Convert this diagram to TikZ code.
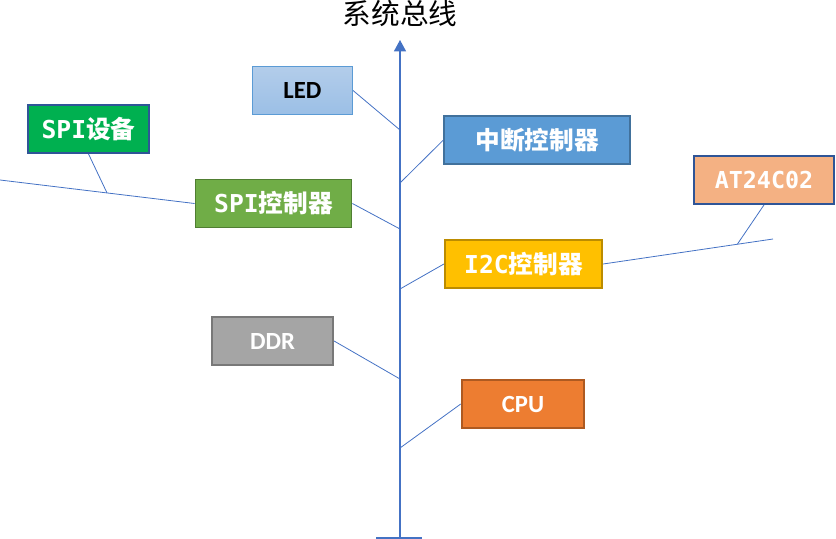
\documentclass[tikz,border=0pt]{standalone}
\usepackage{fontspec}
\setmainfont{Carlito}
\newfontfamily\cjk{Noto Sans CJK SC}
\newfontfamily\mono{DejaVu Sans Mono}
\usetikzlibrary{arrows.meta, calc}
\definecolor{busblue}{HTML}{4472C4}
\definecolor{ledtop}{HTML}{B3CDEA}
\definecolor{ledbot}{HTML}{9BBFE6}
\definecolor{ledline}{HTML}{5B9BD5}
\definecolor{spidevfill}{HTML}{00B050}
\definecolor{darkline}{HTML}{2F5597}
\definecolor{intcfill}{HTML}{5B9BD5}
\definecolor{intcline}{HTML}{41719C}
\definecolor{spicfill}{HTML}{70AD47}
\definecolor{spicline}{HTML}{507E32}
\definecolor{atfill}{HTML}{F4B183}
\definecolor{i2cfill}{HTML}{FFC000}
\definecolor{i2cline}{HTML}{BC8C00}
\definecolor{ddrfill}{HTML}{A5A5A5}
\definecolor{ddrline}{HTML}{787878}
\definecolor{cpufill}{HTML}{ED7D31}
\definecolor{cpuline}{HTML}{AE5A21}
\tikzset{
device/.style = {rectangle, draw, line width = 1.4pt, inner sep = 0pt, minimum height = 36pt,
	text = white, font = \fontsize{18.5}{22}\selectfont\bfseries},
link/.style = {draw = busblue, line width = 0.6pt},
bus/.style = {draw = busblue, line width = 0.9pt},
bustip/.style = {-{Triangle[length = 8.5pt, width = 9pt]}}
}

\begin{document}
\begin{tikzpicture}[x = 0.75pt, y = -0.75pt]
\useasboundingbox (0,0) rectangle (836,539);

%% The bus
\coordinate (btop) at (400,40);
\coordinate (bbot) at (400,538);
\draw [bus, bustip] (bbot) -- (btop);
\coordinate (bl) at (376,538);
\coordinate (br) at (422,538);
\path [bus] (bl) edge (br);
\node (title) at (400,14) {\cjk\fontsize{21.5}{26}\selectfont 系统总线};

%% The devices
\node [device, line width = 0.8pt, draw = ledline, top color = ledtop, bottom color = ledbot,
	text = black, minimum width = 75pt] (led) at (302.5,90.5) {LED};
\node [device, draw = darkline, fill = spidevfill, minimum width = 91pt] (spidev) at (88.5,129)
	{{\mono SPI}{\cjk 设备}};
\node [device, draw = intcline, fill = intcfill, minimum width = 139pt] (intc) at (537,140)
	{\cjk 中断控制器};
\node [device, draw = spicline, fill = spicfill, minimum width = 117pt] (spic) at (273.5,203.5)
	{{\mono SPI}{\cjk 控制器}};
\node [device, draw = darkline, fill = atfill, minimum width = 105pt] (at24) at (764,180)
	{\mono\fontsize{17.5}{21}\selectfont AT24C02};
\node [device, draw = i2cline, fill = i2cfill, minimum width = 118pt] (i2c) at (523.5,264)
	{{\mono I2C}{\cjk 控制器}};
\node [device, draw = ddrline, fill = ddrfill, minimum width = 91pt] (ddr) at (272.5,341) {DDR};
\node [device, draw = cpuline, fill = cpufill, minimum width = 92pt] (cpu) at (523,404) {CPU};

%% The taps on the bus
\coordinate (t1) at (400,130);
\coordinate (t2) at (400,183);
\coordinate (t3) at (400,229);
\coordinate (t4) at (400,289);
\coordinate (t5) at (400,379);
\coordinate (t6) at (400,448);
\path [link] (led.east) edge (t1);
\path [link] (intc.west) edge (t2);
\path [link] (spic.east) edge (t3);
\path [link] (i2c.west) edge (t4);
\path [link] (ddr.east) edge (t5);
\path [link] (cpu.west) edge (t6);

%% The side buses
\coordinate (spiend) at (0,180);
\coordinate (i2cend) at (773,239);
\path [link] (spiend) edge (spic.west);
\path [link] (spidev.south) edge ($(spiend)!0.55!(spic.west)$);
\path [link] (i2c.east) edge (i2cend);
\path [link] (at24.south) edge ($(i2c.east)!0.79!(i2cend)$);

\end{tikzpicture}
\end{document}
